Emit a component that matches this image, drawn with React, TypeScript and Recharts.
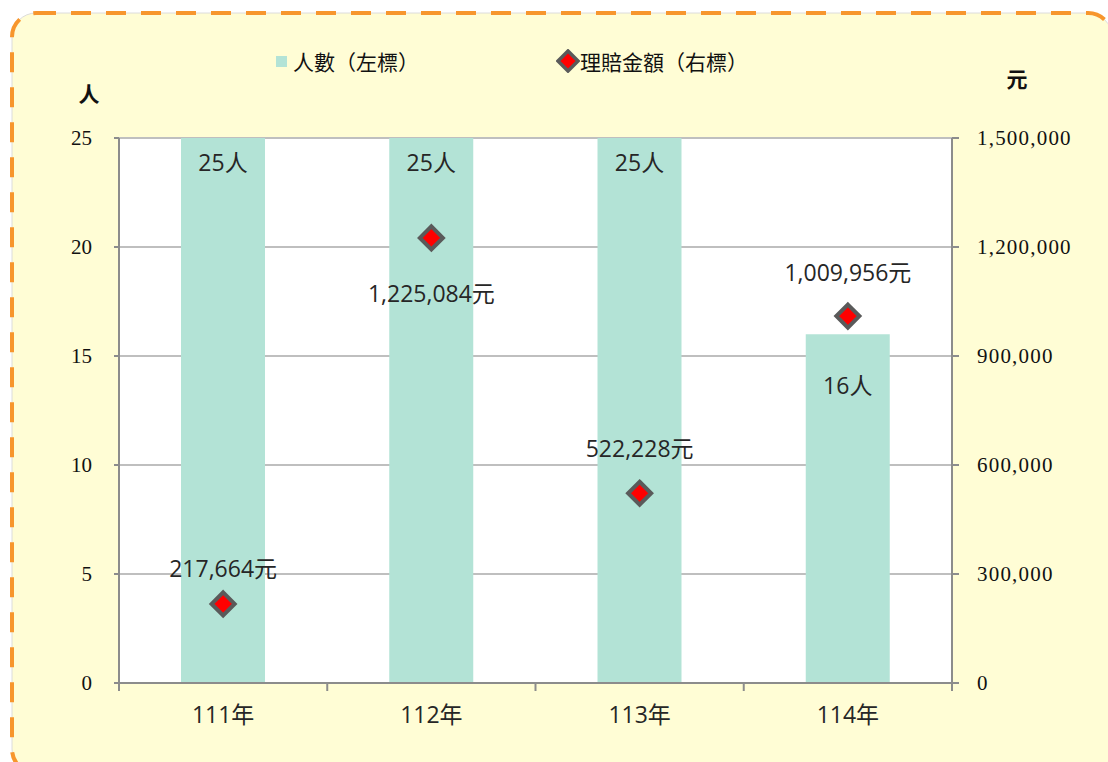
import {
  ComposedChart,
  Bar,
  Line,
  XAxis,
  YAxis,
  CartesianGrid,
  LabelList
} from "recharts";

const years = ["111年", "112年", "113年", "114年"];
const people = [25, 25, 25, 16];
const payout = [217664, 1225084, 522228, 1009956];
const leftTicks = [0, 5, 10, 15, 20, 25];
const rightTicks = [0, 300000, 600000, 900000, 1200000, 1500000];

const data = years.map((year, i) => ({ year, people: people[i], payout: payout[i] }));

const BAR = "#B3E3D6";
const BG = "#FFFDD5";
const AXIS = "#8c8c8c";
const LABEL_FONT = "'Open Sans', 'Noto Sans CJK TC', sans-serif";
const TICK_FONT = "'Liberation Serif', 'Noto Sans CJK TC', serif";
const CJK = "'Noto Sans CJK TC', sans-serif";
const X_TICK_GAP = 24;

// label nudges, like the hand-placed labels in the original
const barLabelDrop = [24, 24, 24, 51];
const payLabelShift = [-36, 55, -45, -44];

const Diamond = (props: any) => {
  const { cx, cy } = props;
  if (cx == null || cy == null) return null;
  const r = 11.5;
  return (
    <polygon
      points={`${cx},${cy - r} ${cx + r},${cy} ${cx},${cy + r} ${cx - r},${cy}`}
      fill="#ff0000"
      stroke="#5a5a5a"
      strokeWidth={4}
    />
  );
};

// year label in the middle of the band, tick marks on the band edges (Excel style)
const YearTick = (props: any) => {
  const { x, y, payload, index, visibleTicksCount } = props;
  const half = payload?.offset ?? 0;
  const top = y - X_TICK_GAP;
  return (
    <g>
      {half > 0 && (
        <line x1={x - half} x2={x - half} y1={top} y2={top + 8} stroke={AXIS} strokeWidth={2} />
      )}
      {half > 0 && index === visibleTicksCount - 1 && (
        <line x1={x + half} x2={x + half} y1={top} y2={top + 8} stroke={AXIS} strokeWidth={2} />
      )}
      <text
        x={x}
        y={y}
        dy="0.71em"
        textAnchor="middle"
        fontSize={23}
        fontFamily={LABEL_FONT}
        fill="#262626"
      >
        {payload.value}
      </text>
    </g>
  );
};

const BarLabel = (props: any) => {
  const { x, y, width, value, index } = props;
  return (
    <text
      x={x + width / 2}
      y={y + barLabelDrop[index]}
      textAnchor="middle"
      dominantBaseline="central"
      fontSize={23}
      fontFamily={LABEL_FONT}
      fill="#262626"
    >
      {value}人
    </text>
  );
};

const PayLabel = (props: any) => {
  const { x, y, value, index } = props;
  return (
    <text
      x={x}
      y={y + payLabelShift[index]}
      textAnchor="middle"
      dominantBaseline="central"
      fontSize={23}
      fontFamily={LABEL_FONT}
      fill="#262626"
    >
      {Number(value).toLocaleString("en-US")}元
    </text>
  );
};

export default function App() {
  return (
    <div
      style={{
        position: "absolute",
        top: 0,
        left: 0,
        width: 1108,
        height: 762,
        overflow: "hidden",
        background: "#fff"
      }}
    >
      <svg width={1108} height={762} style={{ position: "absolute", top: 0, left: 0 }}>
        <rect x={12} y={13} width={1100} height={760} rx={24} fill={BG} stroke="#dcdcdc" strokeWidth={1} />
        <rect
          x={12}
          y={13}
          width={1100}
          height={760}
          rx={24}
          fill="none"
          stroke="#F7962D"
          strokeWidth={4}
          strokeDasharray="20 15"
        />
      </svg>

      {/* legend */}
      <div style={{ position: "absolute", top: 45, left: 0, width: 1108, height: 32, fontFamily: CJK, fontSize: 21, color: "#111" }}>
        <div style={{ position: "absolute", left: 276, top: 11, width: 11, height: 11, background: BAR }} />
        <div style={{ position: "absolute", left: 293, top: 0, lineHeight: "32px" }}>人數（左標）</div>
        <svg style={{ position: "absolute", left: 556, top: 4 }} width={24} height={24}>
          <polygon points="12,2 22,12 12,22 2,12" fill="#ff0000" stroke="#5a5a5a" strokeWidth={3.5} />
        </svg>
        <div style={{ position: "absolute", left: 580, top: 0, lineHeight: "32px" }}>理賠金額（右標）</div>
      </div>

      <ComposedChart
        width={1108}
        height={762}
        data={data}
        margin={{ top: 138, right: 26, bottom: 29, left: 59 }}
        style={{ position: "absolute", top: 0, left: 0 }}
      >
        <CartesianGrid
          yAxisId="left"
          vertical={false}
          stroke="#bfbfbf"
          strokeWidth={2}
          fill="#ffffff"
          fillOpacity={1}
        />
        <XAxis
          dataKey="year"
          height={50}
          axisLine={{ stroke: AXIS, strokeWidth: 2 }}
          tickLine={false}
          tickSize={0}
          tickMargin={X_TICK_GAP}
          interval={0}
          tick={<YearTick />}
        />
        <YAxis
          yAxisId="left"
          domain={[0, 25]}
          ticks={leftTicks}
          width={60}
          axisLine={{ stroke: AXIS, strokeWidth: 2 }}
          tickLine={{ stroke: AXIS, strokeWidth: 2 }}
          tickSize={5}
          tickMargin={22}
          tick={{ fontSize: 21, fontFamily: TICK_FONT, fill: "#111" }}
          label={{
            value: "人",
            position: "top",
            offset: 36,
            style: { fontSize: 21, fontWeight: "bold", fontFamily: CJK, fill: "#111" }
          }}
        />
        <YAxis
          yAxisId="right"
          orientation="right"
          domain={[0, 1500000]}
          ticks={rightTicks}
          width={130}
          axisLine={{ stroke: AXIS, strokeWidth: 2 }}
          tickLine={{ stroke: AXIS, strokeWidth: 2 }}
          tickSize={7}
          tickMargin={18}
          tickFormatter={(v: number) => v.toLocaleString("en-US")}
          tick={{ fontSize: 21, fontFamily: TICK_FONT, fill: "#111", letterSpacing: 1.2 }}
          label={{
            value: "元",
            position: "top",
            offset: 51,
            style: { fontSize: 21, fontWeight: "bold", fontFamily: CJK, fill: "#111" }
          }}
        />
        <Bar yAxisId="left" dataKey="people" fill={BAR} barSize={84} isAnimationActive={false}>
          <LabelList dataKey="people" content={BarLabel} />
        </Bar>
        <Line
          yAxisId="right"
          dataKey="payout"
          stroke="none"
          dot={<Diamond />}
          activeDot={false}
          isAnimationActive={false}
        >
          <LabelList dataKey="payout" content={PayLabel} />
        </Line>
      </ComposedChart>
    </div>
  );
}
